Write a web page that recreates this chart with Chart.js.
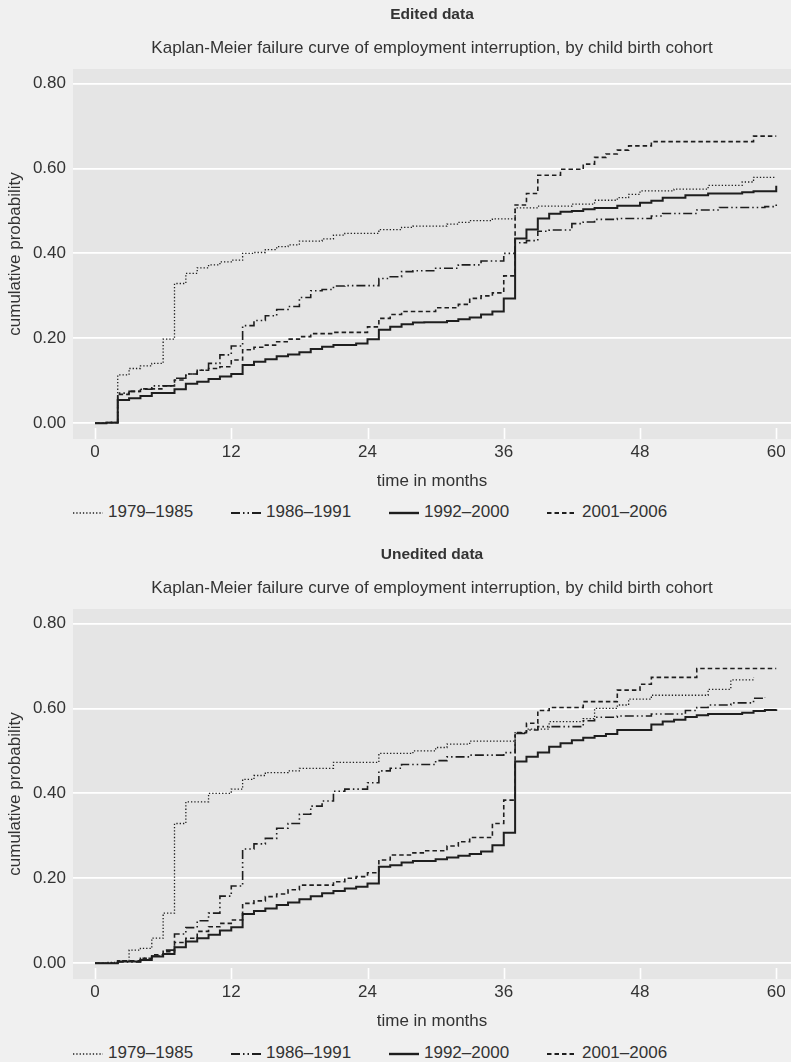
<!DOCTYPE html>
<html><head><meta charset="utf-8">
<script src="https://cdn.jsdelivr.net/npm/chart.js@4"></script>
<style>
html,body{margin:0;padding:0;background:#f0f0f0;}
body{width:791px;height:1062px;position:relative;overflow:hidden;font-family:'Liberation Sans',Arial,sans-serif;color:#333;}
.panel{position:absolute;left:0;width:791px;height:500px;}
.panel canvas{display:block}
.legend{position:absolute;left:73px;height:20px;display:flex;align-items:center;font-size:17px;line-height:20px;color:#333;}
.legend .item{display:flex;align-items:center;min-width:158px;}
.legend svg{margin-right:5px;display:block}
</style></head>
<body>
<div class="panel" style="top:0"><canvas id="c1" width="791" height="500"></canvas></div>
<div class="legend" id="lg1" style="top:502px"></div>
<div class="panel" style="top:540px"><canvas id="c2" width="791" height="500"></canvas></div>
<div class="legend" id="lg2" style="top:1043px"></div>
<script>
// ---- data ----
const panelTitles = ['Edited data', 'Unedited data'];
const subtitleText = 'Kaplan-Meier failure curve of employment interruption, by child birth cohort';
const seriesLabels = ['1979\u20131985', '1986\u20131991', '1992\u20132000', '2001\u20132006'];
const xTicks = [0, 12, 24, 36, 48, 60];
const yTicks = [0, 0.2, 0.4, 0.6, 0.8];

// [month, cumulative probability]
const edited1979 = [[0,0],[1,0.002],[2,0.114],[3,0.129],[4,0.135],[5,0.141],[6,0.198],[7,0.329],[8,0.353],[9,0.366],[10,0.373],[11,0.38],[12,0.384],[13,0.4],[14,0.402],[15,0.409],[16,0.416],[17,0.42],[18,0.429],[20,0.434],[21,0.443],[22,0.447],[25,0.456],[27,0.461],[28,0.464],[31,0.469],[32,0.473],[33,0.477],[35,0.481],[37,0.507],[39,0.511],[42,0.516],[44,0.525],[46,0.531],[47,0.539],[48,0.547],[51,0.551],[54,0.56],[57,0.568],[58,0.579],[60,0.579]];
const edited1986 = [[0,0],[1,0.002],[2,0.071],[3,0.075],[4,0.08],[5,0.088],[7,0.106],[8,0.116],[9,0.125],[10,0.141],[11,0.161],[12,0.182],[13,0.23],[14,0.242],[15,0.253],[16,0.268],[17,0.275],[18,0.296],[19,0.312],[20,0.315],[21,0.323],[22,0.324],[25,0.341],[26,0.345],[27,0.357],[28,0.359],[30,0.365],[32,0.373],[34,0.382],[36,0.4],[37,0.425],[38,0.43],[39,0.452],[40,0.455],[42,0.47],[43,0.474],[44,0.48],[46,0.482],[49,0.488],[50,0.494],[53,0.502],[55,0.508],[59,0.51],[60,0.522]];
const edited1992 = [[0,0],[1,0.001],[2,0.055],[3,0.059],[4,0.064],[5,0.071],[7,0.08],[8,0.093],[9,0.098],[10,0.104],[11,0.11],[12,0.116],[13,0.137],[14,0.145],[15,0.151],[16,0.158],[17,0.162],[18,0.167],[19,0.175],[20,0.18],[21,0.184],[23,0.188],[24,0.198],[25,0.22],[26,0.227],[27,0.233],[28,0.237],[29,0.238],[31,0.241],[32,0.245],[33,0.249],[34,0.256],[35,0.263],[36,0.294],[37,0.435],[38,0.456],[39,0.482],[40,0.493],[41,0.498],[42,0.5],[43,0.504],[44,0.507],[46,0.512],[48,0.519],[49,0.524],[50,0.531],[52,0.537],[54,0.541],[57,0.544],[58,0.546],[60,0.559]];
const edited2001 = [[0,0],[1,0.002],[2,0.068],[3,0.075],[4,0.081],[6,0.088],[7,0.102],[8,0.116],[9,0.125],[10,0.129],[11,0.133],[12,0.149],[13,0.173],[14,0.179],[15,0.184],[16,0.192],[17,0.198],[18,0.204],[19,0.211],[21,0.214],[24,0.227],[25,0.247],[26,0.256],[27,0.263],[30,0.272],[32,0.28],[33,0.294],[34,0.3],[35,0.307],[36,0.347],[37,0.514],[38,0.541],[39,0.584],[41,0.598],[43,0.61],[44,0.626],[45,0.634],[46,0.643],[47,0.653],[49,0.663],[58,0.676],[60,0.676]];

const unedited1979 = [[0,0],[1,0.002],[2,0.006],[3,0.031],[4,0.035],[5,0.059],[6,0.118],[7,0.329],[8,0.38],[10,0.4],[12,0.41],[13,0.433],[14,0.442],[15,0.449],[17,0.453],[18,0.459],[21,0.473],[25,0.494],[28,0.5],[30,0.508],[31,0.516],[33,0.523],[37,0.543],[38,0.551],[40,0.569],[43,0.576],[44,0.6],[46,0.608],[47,0.622],[49,0.631],[54,0.645],[56,0.667],[58,0.672]];
const unedited1986 = [[0,0],[2,0.003],[4,0.012],[5,0.017],[6,0.031],[7,0.069],[8,0.084],[9,0.1],[10,0.118],[11,0.158],[12,0.182],[13,0.269],[14,0.281],[15,0.294],[16,0.318],[17,0.329],[18,0.351],[19,0.37],[20,0.382],[21,0.405],[22,0.41],[24,0.425],[25,0.453],[26,0.459],[27,0.468],[30,0.477],[31,0.486],[33,0.49],[36,0.496],[37,0.541],[38,0.549],[39,0.557],[43,0.571],[44,0.579],[46,0.582],[49,0.587],[52,0.595],[53,0.602],[54,0.608],[56,0.613],[58,0.624],[59,0.627]];
const unedited1992 = [[0,0],[2,0.004],[4,0.008],[5,0.016],[6,0.022],[7,0.038],[8,0.051],[9,0.059],[10,0.067],[11,0.077],[12,0.085],[13,0.116],[14,0.123],[15,0.129],[16,0.137],[17,0.143],[18,0.151],[19,0.158],[20,0.165],[21,0.17],[22,0.176],[23,0.18],[24,0.188],[25,0.227],[26,0.231],[27,0.237],[28,0.241],[30,0.245],[31,0.249],[32,0.253],[33,0.257],[34,0.263],[35,0.278],[36,0.307],[37,0.475],[38,0.486],[39,0.496],[40,0.51],[41,0.518],[42,0.525],[43,0.531],[44,0.535],[45,0.54],[46,0.549],[49,0.562],[50,0.569],[51,0.573],[52,0.58],[53,0.584],[54,0.587],[57,0.59],[58,0.594],[59,0.596],[60,0.598]];
const unedited2001 = [[0,0],[2,0.006],[4,0.012],[5,0.02],[6,0.027],[7,0.049],[8,0.059],[9,0.075],[10,0.086],[11,0.094],[12,0.102],[13,0.141],[14,0.147],[15,0.157],[16,0.163],[17,0.173],[18,0.184],[21,0.192],[22,0.2],[23,0.204],[24,0.213],[25,0.243],[26,0.255],[28,0.26],[29,0.265],[31,0.276],[32,0.286],[33,0.296],[35,0.329],[36,0.384],[37,0.543],[38,0.565],[39,0.595],[40,0.602],[43,0.616],[46,0.643],[48,0.657],[49,0.673],[53,0.694],[60,0.694]];

// ---- styles ----
const TEXT = '#333333';
const FONT = "'Liberation Sans', Arial, sans-serif";
const lineStyles = [
  {dash:[1.3,2], width:1.3},
  {dash:[9,3,1.5,3,1.5,3], width:1.6},
  {dash:[], width:2},
  {dash:[4.5,3], width:1.6}
];

Chart.defaults.font.family = FONT;
Chart.defaults.color = TEXT;

const panelDeco = {
  id: 'panelDeco',
  beforeDraw(chart) {
    const {ctx, chartArea: a} = chart;
    ctx.save();
    ctx.fillStyle = '#e5e5e5';
    ctx.fillRect(a.left, a.top, a.right - a.left, a.bottom - a.top);
    ctx.restore();
  },
  beforeDatasetsDraw(chart) {
    const {ctx, chartArea: a} = chart;
    const xs = chart.scales.x;
    ctx.save();
    ctx.strokeStyle = '#ffffff';
    ctx.lineWidth = 1.6;
    xs.ticks.forEach(t => {
      const px = Math.round(xs.getPixelForValue(t.value)) + 0.5;
      ctx.beginPath();
      ctx.moveTo(px, a.bottom - 11);
      ctx.lineTo(px, a.bottom);
      ctx.stroke();
    });
    ctx.restore();
  }
};

function makeChart(id, title, series) {
  const datasets = series.map((s, i) => ({
    label: seriesLabels[i],
    data: s.map(([x, y]) => ({x, y})),
    borderColor: '#1e1e1e',
    borderWidth: lineStyles[i].width,
    borderDash: lineStyles[i].dash,
    pointRadius: 0,
    stepped: 'before',
    fill: false,
    tension: 0
  }));
  return new Chart(document.getElementById(id), {
    type: 'line',
    data: {datasets},
    plugins: [panelDeco],
    options: {
      responsive: false,
      animation: false,
      devicePixelRatio: 1,
      layout: {padding: 0},
      plugins: {
        legend: {display: false},
        tooltip: {enabled: false},
        title: {display: true, text: title, fullSize: false, color: TEXT,
          font: {size: 15.5, weight: 'bold'}, padding: {top: 5.7, bottom: 0}},
        subtitle: {display: true, text: subtitleText, fullSize: false, color: TEXT,
          font: {size: 17}, padding: {top: 13.5, bottom: 10.8}}
      },
      scales: {
        x: {
          type: 'linear', min: -1.94, max: 61.3,
          afterBuildTicks(s) { s.ticks = xTicks.map(v => ({value: v})); },
          afterFit(s) { s.height = 61; },
          grid: {display: false, drawTicks: false},
          border: {display: false},
          ticks: {padding: 3, color: TEXT, font: {size: 17}, maxRotation: 0, autoSkip: false,
            callback: v => String(v)},
          title: {display: true, text: 'time in months', color: TEXT, font: {size: 17},
            padding: {top: 0, bottom: 8}}
        },
        y: {
          type: 'linear', min: -0.037, max: 0.834,
          afterBuildTicks(s) { s.ticks = yTicks.map(v => ({value: v})); },
          afterFit(s) { s.width = 73; },
          grid: {color: '#ffffff', lineWidth: 1.8, drawTicks: false},
          border: {display: false},
          ticks: {padding: 7, color: TEXT, font: {size: 17}, callback: v => Number(v).toFixed(2)},
          title: {display: true, text: 'cumulative probability', color: TEXT, font: {size: 17},
            padding: {top: 5, bottom: 0}}
        }
      }
    }
  });
}

function buildLegend(id) {
  const el = document.getElementById(id);
  seriesLabels.forEach((lab, i) => {
    const item = document.createElement('div');
    item.className = 'item';
    const ns = 'http://www.w3.org/2000/svg';
    const svg = document.createElementNS(ns, 'svg');
    svg.setAttribute('width', '30'); svg.setAttribute('height', '20');
    const ln = document.createElementNS(ns, 'line');
    ln.setAttribute('x1', '0'); ln.setAttribute('x2', '30');
    ln.setAttribute('y1', '11'); ln.setAttribute('y2', '11');
    ln.setAttribute('stroke', '#1e1e1e');
    ln.setAttribute('stroke-width', String(lineStyles[i].width + 0.4));
    if (lineStyles[i].dash.length) ln.setAttribute('stroke-dasharray', lineStyles[i].dash.join(' '));
    svg.appendChild(ln);
    const sp = document.createElement('span');
    sp.textContent = lab;
    item.appendChild(svg); item.appendChild(sp);
    el.appendChild(item);
  });
}

makeChart('c1', panelTitles[0], [edited1979, edited1986, edited1992, edited2001]);
makeChart('c2', panelTitles[1], [unedited1979, unedited1986, unedited1992, unedited2001]);
buildLegend('lg1');
buildLegend('lg2');
</script>
</body></html>
